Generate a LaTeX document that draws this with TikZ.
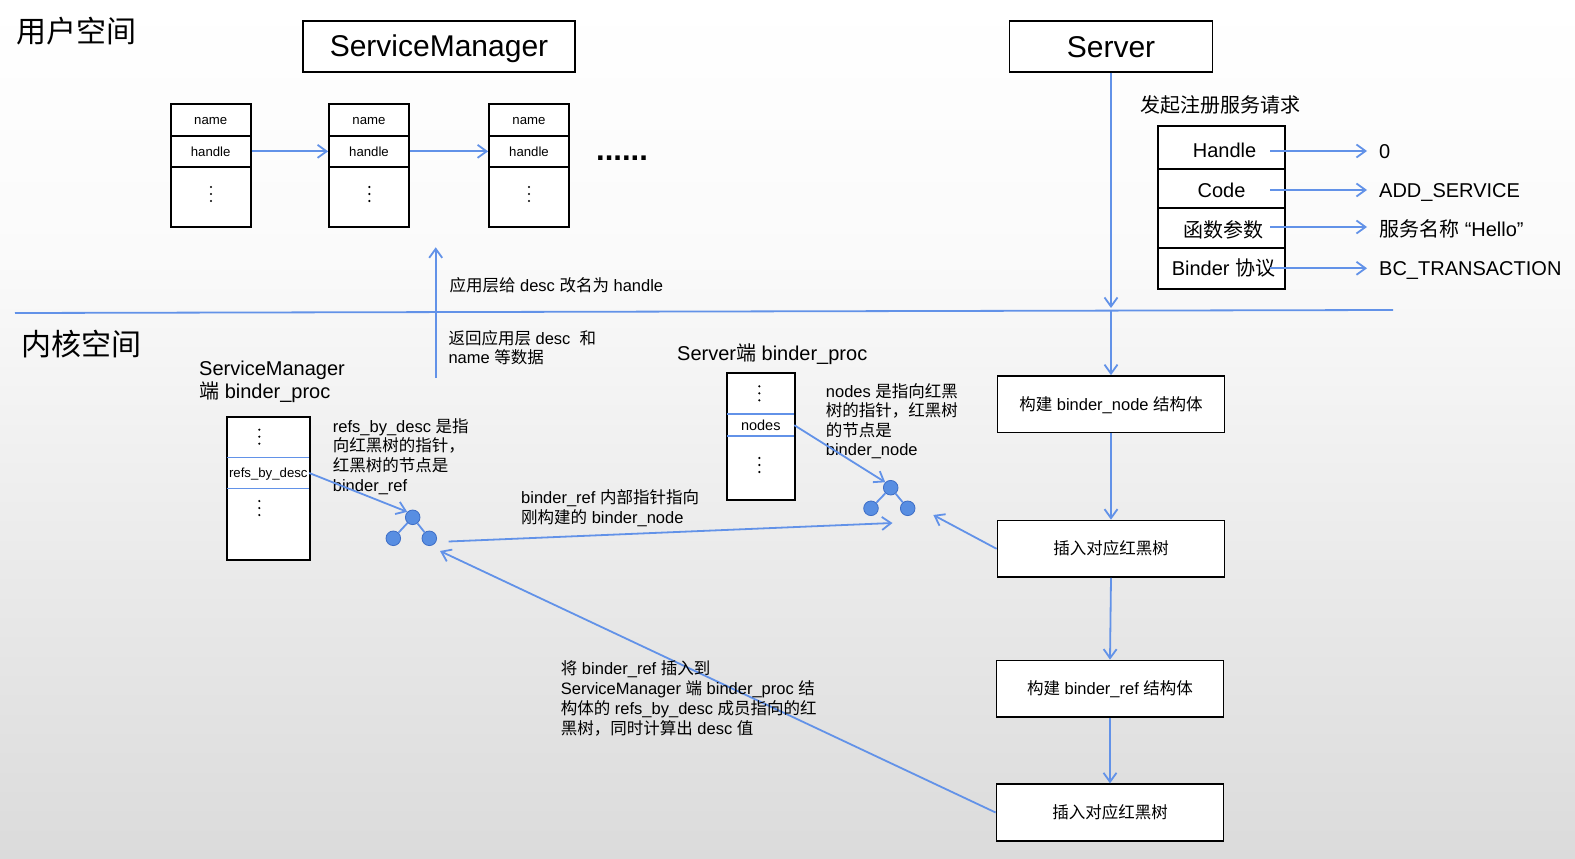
\documentclass[tikz,border=0pt]{standalone}
\usepackage{fontspec}
\setmainfont{Liberation Sans}
\newfontfamily\cjk{Noto Sans CJK SC}
\usetikzlibrary{arrows.meta}
\definecolor{lineblue}{RGB}{98,146,232}
\definecolor{treefill}{RGB}{88,142,226}
\definecolor{treedraw}{RGB}{62,110,198}
\definecolor{bgmid}{RGB}{250,250,250}
\definecolor{bgbot}{RGB}{219,219,219}
\newcommand\zh[1]{{\cjk #1}}
\begin{document}
\begin{tikzpicture}[x=1pt,y=-1pt,
  blk/.style={draw=black, line width=1.8pt, fill=white, inner sep=0pt},
  barrow/.style={draw=lineblue, line width=1.8pt, -{Straight Barb[length=9pt,width=13pt]}},
  bline/.style={draw=lineblue, line width=1.8pt},
  treen/.style={circle, fill=treefill, draw=treedraw, line width=0.8pt, minimum size=14.6pt, inner sep=0pt},
  txt/.style={inner sep=0pt, anchor=base west, align=left},
  f30/.style={font=\fontsize{30}{35}\selectfont, text height=21.6pt, text depth=0pt},
  f20/.style={font=\fontsize{20}{24}\selectfont, text height=14.4pt, text depth=0pt},
  f16/.style={font=\fontsize{16.5}{19.7}\selectfont, text height=11.9pt, text depth=0pt},
  f14/.style={font=\fontsize{14.5}{17}\selectfont, text height=10.4pt, text depth=0pt},
  f13/.style={font=\fontsize{13.2}{16}\selectfont, text height=9.5pt, text depth=0pt},
  lbl/.style={inner sep=0pt, anchor=west},
  dotc/.style={fill=black}
]
\useasboundingbox (0,0) rectangle (1575,859);
\shade[top color=white, bottom color=bgmid] (0,0) rectangle (1575,260);
\shade[top color=bgmid, bottom color=bgbot] (0,260) rectangle (1575,859);

% section titles
\node[txt, font=\fontsize{30}{35}\selectfont] (us) at (16,42.5) {\zh{用户空间}};
\node[txt, font=\fontsize{30}{35}\selectfont] (ks) at (21,355.8) {\zh{内核空间}};

% separator
\coordinate (sepL) at (15,313);
\coordinate (sepR) at (1393,310);
\draw[bline] (sepL) -- (sepR);

% title boxes
\node[blk, minimum width=272pt, minimum height=51pt, f30] (sm) at (439,46.2) {ServiceManager};
\node[blk, minimum width=203pt, minimum height=51pt, f30] (srv) at (1111,46.3) {Server};

% user space structs
\node[blk, minimum width=80pt, minimum height=32pt, f13] (n1) at (210.7,120) {name};
\node[blk, minimum width=80pt, minimum height=30.7pt, f13] (h1) at (210.7,151.35) {handle};
\node[blk, minimum width=80pt, minimum height=60pt] (b1) at (210.7,196.7) {};
\node[blk, minimum width=80pt, minimum height=32pt, f13] (n2) at (369,120) {name};
\node[blk, minimum width=80pt, minimum height=30.7pt, f13] (h2) at (369,151.35) {handle};
\node[blk, minimum width=80pt, minimum height=60pt] (b2) at (369,196.7) {};
\node[blk, minimum width=80pt, minimum height=32pt, f13] (n3) at (529,120) {name};
\node[blk, minimum width=80pt, minimum height=30.7pt, f13] (h3) at (529,151.35) {handle};
\node[blk, minimum width=80pt, minimum height=60pt] (b3) at (529,196.7) {};
\foreach \x in {211,369.3,529} \foreach \dy in {-7,0,7} \fill[dotc] (\x,194+\dy) circle (1.2pt);
\draw[barrow] (h1.east) -- (h2.west);
\draw[barrow] (h2.east) -- (h3.west);
\node[font=\fontsize{31}{36}\selectfont\bfseries, inner sep=0pt, anchor=base] (ell) at (622,160.5) {......};

% server request table
\node[txt, font=\fontsize{20}{24}\selectfont] (req) at (1140,112.2) {\zh{发起注册服务请求}};
\node[blk, minimum width=127pt, minimum height=43pt, f20, text height=20.4pt] (r1) at (1221.5,147.5) {\hspace{6pt}Handle};
\node[blk, minimum width=127pt, minimum height=38.7pt, f20, text height=19pt] (r2) at (1221.5,188.35) {Code};
\node[blk, minimum width=127pt, minimum height=40.3pt, f20, text height=18.8pt] (r3) at (1221.5,227.85) {\hspace{4pt}\zh{函数参数}};
\node[blk, minimum width=127pt, minimum height=41pt, f20] (r4) at (1221.5,268.5) {\hspace{4pt}Binder \zh{协议}};
\node[lbl, f20] (v1) at (1379,151) {0};
\node[lbl, f20] (v2) at (1379,190) {ADD\_SERVICE};
\node[lbl, f20] (v3) at (1379,229.5) {\zh{服务名称} “Hello”};
\node[lbl, f20] (v4) at (1379,268.3) {BC\_TRANSACTION};
\coordinate (tx) at (1270,0);
\draw[barrow] (v1.west -| tx) -- ([xshift=-12pt]v1.west);
\draw[barrow] (v2.west -| tx) -- ([xshift=-12pt]v2.west);
\draw[barrow] ([yshift=2.5pt]v3.west -| tx) -- ([xshift=-12pt,yshift=2.5pt]v3.west);
\draw[barrow] (v4.west -| tx) -- ([xshift=-12pt]v4.west);

% right flow boxes
\node[blk, minimum width=227pt, minimum height=56.5pt, f16] (B1) at (1111,404.3) {\zh{构建} binder\_node \zh{结构体}};
\node[blk, minimum width=227pt, minimum height=56.5pt, f16] (B2) at (1111,548.8) {\zh{插入对应红黑树}};
\node[blk, minimum width=227pt, minimum height=56.5pt, f16] (B3) at (1110,688.8) {\zh{构建} binder\_ref \zh{结构体}};
\node[blk, minimum width=227pt, minimum height=56.5pt, f16] (B4) at (1110,812.5) {\zh{插入对应红黑树}};

\coordinate (sepA) at (1111,308);
\coordinate (sepB) at (1111,311);
\draw[barrow] (srv.south) -- (sepA);
\draw[barrow] (sepB) -- (B1.north);
\draw[barrow] (B1.south) -- (B2.north);
\draw[barrow] (B2.south) -- (B3.north);
\draw[barrow] (B3.south) -- (B4.north);

% up arrow and texts
\coordinate (upB) at (435.7,378);
\coordinate (upT) at (435.7,247.3);
\draw[barrow] (upB) -- (upT);
\node[txt, font=\fontsize{16.5}{19.7}\selectfont] (t1) at (449.3,291) {\zh{应用层给} desc \zh{改名为} handle};
\node[txt, font=\fontsize{16.5}{19}\selectfont] (t2) at (448.3,363.2) {\zh{返回应用层} desc\ \ \zh{和}\\name \zh{等数据}};

% ServiceManager binder_proc
\node[txt, font=\fontsize{20}{23.7}\selectfont] (smpl) at (199,398.9) {ServiceManager\\\zh{端} binder\_proc};
\node[blk, minimum width=83.3pt, minimum height=143pt] (smp) at (268.3,488.5) {};
\node[inner sep=0pt, minimum width=81.5pt, minimum height=30.6pt, f13] (refs) at (268.3,473) {refs\_by\_desc};
\draw[bline] (refs.north west) -- (refs.north east);
\draw[bline] (refs.south west) -- (refs.south east);
\foreach \y in {436.7,508} \foreach \dy in {-7,0,7} \fill[dotc] (259.3,\y+\dy) circle (1.2pt);
\node[txt, font=\fontsize{16.5}{19.7}\selectfont] (refl) at (332.7,491.1) {refs\_by\_desc \zh{是指}\\\zh{向红黑树的指针，}\\\zh{红黑树的节点是}\\binder\_ref};

% tree 1
\node[treen] (ta) at (412.7,517.3) {};
\node[treen] (tb) at (393.3,538.3) {};
\node[treen] (tc) at (429.3,538.3) {};
\draw[bline] (ta) -- (tb);
\draw[bline] (ta) -- (tc);
\draw[barrow] (refs.east) -- (ta.north west);

% Server binder_proc
\node[txt, font=\fontsize{20}{24}\selectfont] (svpl) at (677,360) {Server\zh{端} binder\_proc};
\node[blk, minimum width=68.3pt, minimum height=126.7pt] (svp) at (760.8,436.7) {};
\node[inner sep=0pt, minimum width=66.5pt, minimum height=21.7pt, f14] (nodes) at (760.8,425.15) {nodes};
\draw[bline] (nodes.north west) -- (nodes.north east);
\draw[bline] (nodes.south west) -- (nodes.south east);
\foreach \y in {393.3,465} \foreach \dy in {-7,0,7} \fill[dotc] (759.3,\y+\dy) circle (1.2pt);
\node[txt, font=\fontsize{16.5}{19.2}\selectfont] (nodl) at (825.7,455.2) {nodes \zh{是指向红黑}\\\zh{树的指针，红黑树}\\\zh{的节点是}\\binder\_node};

% tree 2
\node[treen] (tA) at (890.7,487.7) {};
\node[treen] (tB) at (871,508.3) {};
\node[treen] (tC) at (907.7,508.3) {};
\draw[bline] (tA) -- (tB);
\draw[bline] (tA) -- (tC);
\draw[barrow] (nodes.east) -- (tA.north west);

% cross connections
\coordinate (t1out) at (448.6,541.5);
\coordinate (t2in) at (892.5,523);
\draw[barrow] (t1out) -- (t2in);
\node[txt, font=\fontsize{16.5}{20}\selectfont] (crl) at (521,523.5) {binder\_ref \zh{内部指针指向}\\\zh{刚构建的} binder\_node};

\coordinate (t2side) at (933.3,515);
\draw[barrow] (B2.west) -- (t2side);
\coordinate (t1side) at (440,551);
\draw[barrow] (B4.west) -- (t1side);
\node[txt, font=\fontsize{16.5}{20}\selectfont] (insl) at (560.7,734.2) {\zh{将} binder\_ref \zh{插入到}\\ServiceManager \zh{端} binder\_proc \zh{结}\\\zh{构体的} refs\_by\_desc \zh{成员指向的红}\\\zh{黑树，同时计算出} desc \zh{值}};
\end{tikzpicture}
\end{document}
